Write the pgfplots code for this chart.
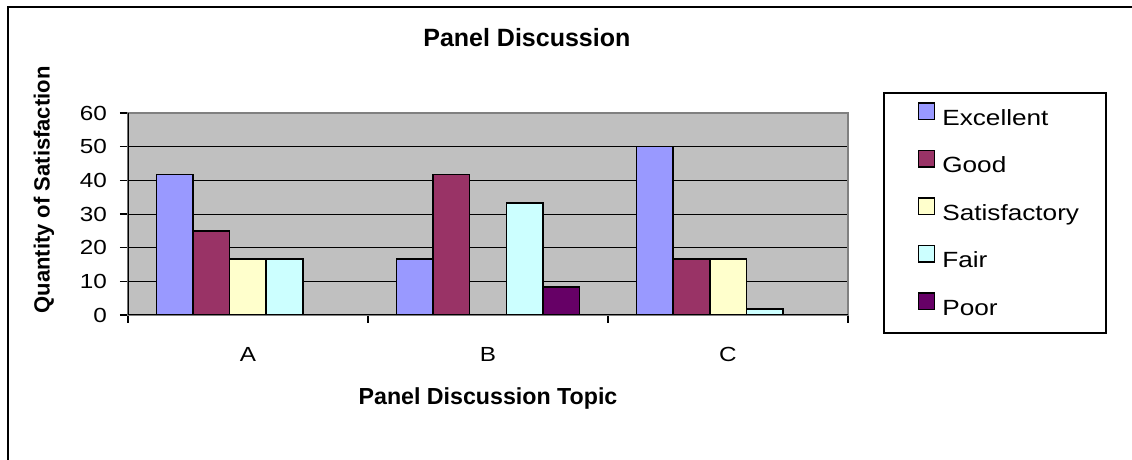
\documentclass[border=0pt]{standalone}
\usepackage{pgfplots}
\pgfplotsset{compat=1.18}
\usepackage{fontspec}
\setmainfont{Liberation Sans}
\newfontfamily\widesans{Liberation Sans}[FakeStretch=1.19]

\definecolor{cExc}{HTML}{9999FF}
\definecolor{cGood}{HTML}{993366}
\definecolor{cSat}{HTML}{FFFFCC}
\definecolor{cFair}{HTML}{CCFFFF}
\definecolor{cPoor}{HTML}{660066}
\definecolor{plotbg}{HTML}{C0C0C0}

\begin{document}
\begin{tikzpicture}
  \useasboundingbox (-64pt,-72.5pt) rectangle (502pt,157.5pt);
  % chart frame (only top and left edges are visible)
  \draw[line width=1pt] (-60pt,-73pt) -- (-60pt,154pt) -- (503pt,154pt);
  % legend frame
  \draw[black, line width=0.6pt] (378pt,111pt) rectangle (489pt,-9pt);
  \begin{axis}[
    at={(0,0)}, anchor=south west,
    scale only axis,
    width=360pt, height=101pt,
    ybar=0pt,
    bar width=18.3pt,
    xmin=-0.5, xmax=2.5,
    ymin=0, ymax=60,
    xtick={-0.5,0.5,1.5,2.5},
    x tick label as interval,
    xticklabels={A,B,C},
    ytick={0,10,...,60},
    xtick pos=lower, ytick pos=left,
    tick align=outside,
    major tick length=4pt,
    tick style={black, line width=0.6pt},
    ymajorgrids,
    grid style={black, line width=0.5pt},
    axis line style={draw=gray, line width=0.6pt},
    axis background/.style={fill=plotbg},
    tick label style={font=\widesans\fontsize{10.2}{12}\selectfont},
    /pgf/number format/assume math mode=true,
    yticklabel style={xshift=-3pt},
    xticklabel style={yshift=-8.5pt},
    title={Panel Discussion},
    title style={at={(rel axis cs:0.554,1.3165)}, anchor=center, yshift=0pt,
      font=\bfseries\fontsize{12.5}{14}\selectfont},
    xlabel={Panel Discussion Topic},
    xlabel style={at={(rel axis cs:0.5,-0.411)}, anchor=center, yshift=0pt,
      font=\bfseries\fontsize{11.6}{13}\selectfont},
    ylabel={Quantity of Satisfaction},
    ylabel style={at={(rel axis cs:-0.1167,0.619)}, anchor=center,
      font=\bfseries\fontsize{11}{13}\selectfont},
    legend style={at={(rel axis cs:1.096,1.055)}, anchor=north west,
      draw=none, fill=none, inner sep=0pt,
      font=\widesans\fontsize{11}{13}\selectfont,
      row sep=10.35pt, column sep=3.5pt,
      nodes={inner sep=0pt, text height=8pt, text depth=2pt}},
    legend cell align=left,
    legend image code/.code={\draw[#1,line width=0.6pt] (0pt,-0.2pt) rectangle (8.3pt,8.1pt);},
  ]
    \addplot[fill=cExc, draw=black, line width=0.8pt] coordinates {(0,41.7) (1,16.7) (2,50)};
    \addplot[fill=cGood, draw=black, line width=0.8pt] coordinates {(0,25) (1,41.7) (2,16.7)};
    \addplot[fill=cSat, draw=black, line width=0.8pt] coordinates {(0,16.7) (2,16.7)};
    \addplot[fill=cFair, draw=black, line width=0.8pt] coordinates {(0,16.7) (1,33.3) (2,1.7)};
    \addplot[fill=cPoor, draw=black, line width=0.8pt] coordinates {(1,8.3)};
    \legend{Excellent,Good,Satisfactory,Fair,Poor}
    % black value and category axes over the grey plot-area border
    \draw[black, line width=0.7pt] (rel axis cs:0,1) -- (rel axis cs:0,0) -- (rel axis cs:1,0);
  \end{axis}
\end{tikzpicture}
\end{document}
